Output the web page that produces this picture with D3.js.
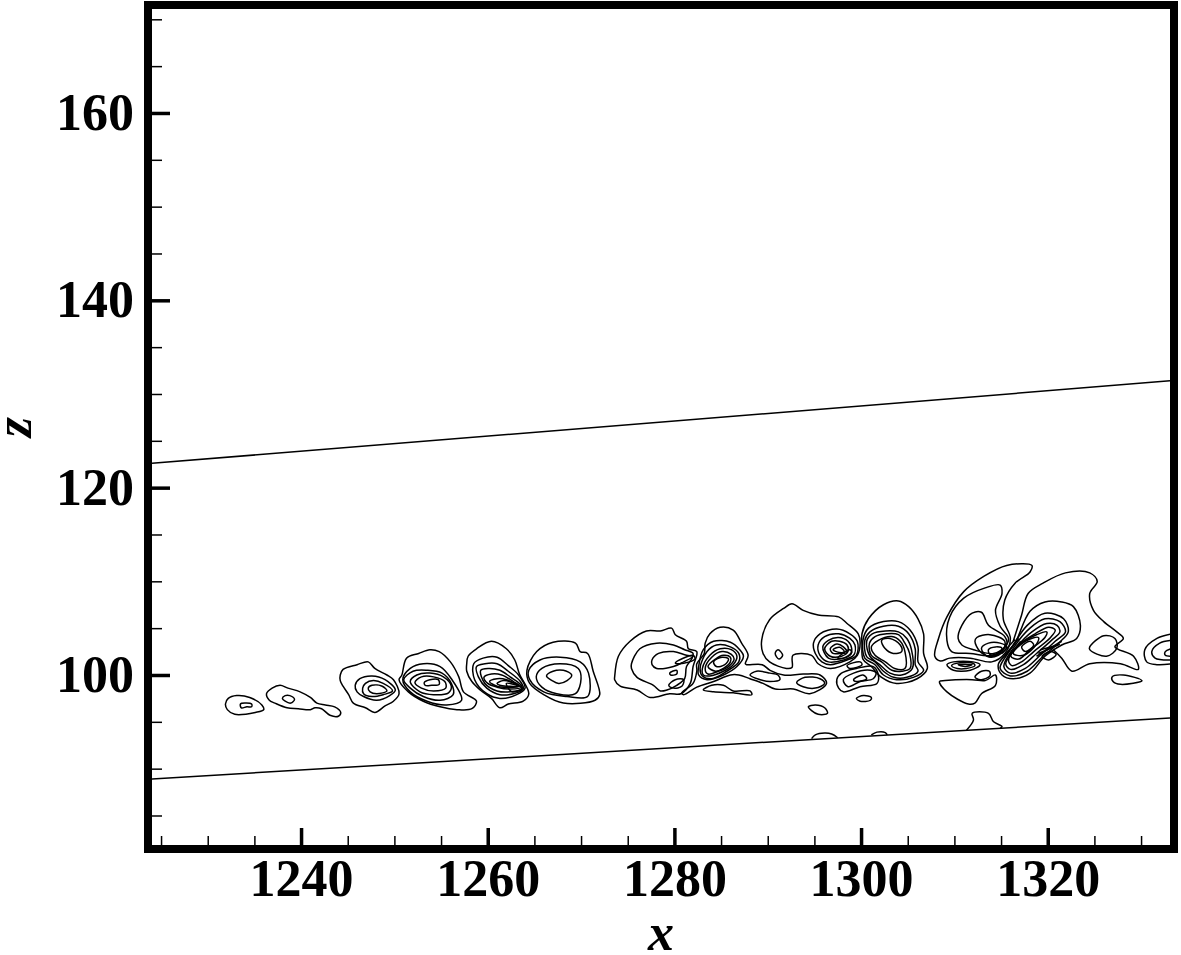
<!DOCTYPE html>
<html>

<head>
    <meta charset="utf-8"/>
    <title>contours x-z</title>
    <script src="https://d3js.org/d3.v7.min.js"></script>
    <style>
        html, body { margin: 0; padding: 0; background: #fff; }
        svg { display: block; }
        .tick text { font-family: "Liberation Serif", serif; font-weight: bold; font-size: 52px; fill: #000; }
        .title { font-family: "Liberation Serif", serif; font-weight: bold; font-style: italic; font-size: 52px; fill: #000; }
        .contour { fill: none; stroke: #000; stroke-width: 1.5; stroke-linejoin: round; }
    </style>
</head>

<body>
    <div id="chart"></div>

    <script>
        // axis ranges and ticks
        var xDomain = [1224.03, 1333.1];
        var zDomain = [81.85, 171.1];
        var xMajor = [1240, 1260, 1280, 1300, 1320];
        var xMinor = [1225, 1230, 1235, 1245, 1250, 1255, 1265, 1270, 1275, 1285, 1290, 1295, 1305, 1310, 1315, 1325, 1330];
        var zMajor = [100, 120, 140, 160];
        var zMinor = [85, 90, 95, 105, 110, 115, 125, 130, 135, 145, 150, 155, 165, 170];

        // the two nearly straight boundary lines
        var upperLine = [[1224.03, 122.6], [1333.1, 131.4]];
        var lowerLine = [[1224.03, 88.9], [1333.1, 95.4]];

        // contours, left to right
        var smallBlobs = [
            [[1231.9,96.9],[1232.2,97.5],[1233.1,97.8],[1234.5,97.6],[1235.8,96.8],[1236.0,96.3],[1235.1,96.0],[1232.9,95.8],[1232.1,96.3]],
            [[1233.5,96.9],[1234.0,97.0],[1234.7,96.9],[1234.7,96.6],[1234.2,96.6],[1233.6,96.5]],
            [[1236.3,98.0],[1236.9,98.6],[1237.75,98.9],[1238.6,98.6],[1239.9,98.2],[1241.0,97.6],[1241.7,97.0],[1242.6,96.8],[1243.6,96.6],[1244.25,96.0],[1244.0,95.6],[1243.1,95.7],[1242.2,96.4],[1241.5,96.5],[1241.0,96.3],[1239.7,96.4],[1238.5,96.5],[1237.2,97.0],[1236.6,97.3]],
            [[1238.0,97.5],[1238.3,97.8],[1238.8,97.8],[1239.3,97.4],[1238.9,97.0],[1238.3,97.2]]
        ];

        var vortex1248 = [
            [[1244.2,100.0],[1244.5,100.6],[1246.0,101.1],[1247.2,101.4],[1247.9,100.7],[1249.2,100.0],[1249.9,99.5],[1250.5,98.0],[1249.9,97.2],[1249.0,96.7],[1247.9,96.0],[1246.9,96.5],[1245.6,97.0],[1245.1,97.9],[1244.5,98.8],[1244.2,99.4]],
            [[1245.8,98.9],[1246.3,99.6],[1247.6,99.9],[1249.0,99.5],[1250.1,98.4],[1249.5,97.8],[1248.1,97.3],[1246.7,97.7],[1246.0,98.2]],
            [[1246.6,98.6],[1246.9,99.1],[1247.75,99.4],[1248.8,99.1],[1249.8,98.3],[1248.8,97.9],[1247.6,97.7],[1246.7,98.0]],
            [[1247.2,98.6],[1247.6,98.9],[1248.7,98.8],[1249.2,98.3],[1248.1,98.0],[1247.4,98.2]]
        ];

        var vortex1254 = [
            [[1250.8,100.0],[1251.3,101.8],[1252.6,102.3],[1253.8,102.7],[1254.8,102.5],[1256.0,101.4],[1256.9,99.8],[1257.4,98.2],[1258.8,97.2],[1258.3,96.4],[1256.7,96.3],[1254.9,96.6],[1253.1,97.2],[1251.5,98.2],[1250.5,99.5]],
            [[1250.9,99.5],[1251.7,100.7],[1253.1,101.2],[1254.9,100.9],[1256.1,99.6],[1257.2,97.3],[1255.6,96.8],[1253.5,97.2],[1251.7,98.2]],
            [[1251.0,99.5],[1252.0,100.4],[1253.5,100.5],[1255.1,100.2],[1256.1,99.1],[1256.3,97.9],[1254.9,97.3],[1253.1,97.7],[1251.7,98.6]],
            [[1251.7,99.3],[1252.4,100.0],[1253.8,100.2],[1255.25,99.8],[1256.1,98.8],[1255.8,98.1],[1254.2,97.9],[1252.75,98.2]],
            [[1252.2,99.2],[1252.9,99.8],[1254.2,99.8],[1255.4,99.3],[1255.5,98.6],[1254.2,98.3],[1252.9,98.6]],
            [[1253.2,99.2],[1253.8,99.5],[1254.7,99.5],[1254.8,99.0],[1254.0,98.9],[1253.3,98.9]]
        ];

        var vortex1261 = [
            [[1257.75,101.2],[1257.9,102.0],[1258.8,102.8],[1260.4,103.6],[1262.0,102.8],[1262.9,101.6],[1263.4,100.1],[1264.4,98.0],[1263.8,97.2],[1262.2,96.9],[1261.3,96.5],[1260.4,97.5],[1259.2,98.4],[1258.3,99.3],[1257.75,100.4]],
            [[1258.5,101.2],[1259.5,101.8],[1261.0,101.9],[1262.2,101.0],[1263.3,100.0],[1264.0,98.6],[1263.1,97.9],[1261.3,97.5],[1259.9,98.0],[1258.6,99.5]],
            [[1258.8,100.9],[1259.7,101.2],[1261.0,101.2],[1262.2,100.4],[1263.5,99.3],[1263.8,98.5],[1262.75,98.0],[1261.3,97.9],[1259.9,98.6],[1259.0,99.8]],
            [[1259.25,100.5],[1260.1,100.7],[1261.3,100.5],[1262.4,99.8],[1263.6,98.9],[1263.6,98.5],[1262.4,98.2],[1261.0,98.3],[1259.7,99.1]],
            [[1259.6,99.75],[1260.4,100.1],[1261.5,100.0],[1262.75,99.3],[1263.6,98.7],[1262.4,98.5],[1261.0,98.7],[1260.0,99.1]],
            [[1260.2,99.3],[1261.0,99.6],[1262.0,99.5],[1263.3,98.8],[1262.2,98.7],[1261.0,98.8]],
            [[1261.0,99.1],[1261.7,99.4],[1262.6,99.2],[1263.3,98.8],[1262.2,98.8],[1261.3,98.9]],
            [[1262.0,99.1],[1263.1,98.9],[1263.8,98.6],[1262.6,98.2]]
        ];

        var vortex1268 = [
            [[1264.2,100.5],[1265.25,102.5],[1267.0,103.5],[1269.4,103.4],[1269.9,102.5],[1270.7,102.3],[1271.3,100.4],[1272.0,97.9],[1271.5,97.3],[1268.1,97.0],[1266.0,97.9],[1264.5,99.1]],
            [[1264.4,100.5],[1265.6,101.6],[1267.75,101.9],[1269.9,101.4],[1270.8,100.2],[1270.7,97.7],[1268.5,97.7],[1266.0,98.2],[1264.5,99.5]],
            [[1265.2,99.8],[1265.8,100.7],[1267.75,101.2],[1269.7,100.7],[1270.0,99.6],[1269.4,98.0],[1267.4,98.0],[1265.8,98.7]],
            [[1266.3,99.9],[1267.0,100.4],[1268.1,100.5],[1269.0,100.0],[1268.5,99.4],[1267.6,99.1],[1266.9,99.4]]
        ];

        var lobe1280 = [
            [[1273.6,99.8],[1274.0,102.0],[1275.25,103.6],[1277.0,104.7],[1278.5,104.7],[1279.7,105.0],[1280.1,104.3],[1281.3,103.6],[1281.5,102.8],[1282.4,102.5],[1282.0,100.9],[1281.7,99.1],[1280.7,98.0],[1279.5,98.0],[1277.4,97.6],[1276.0,98.4],[1274.2,98.8],[1273.6,99.5]],
            [[1275.4,101.2],[1276.3,102.8],[1278.1,103.4],[1279.9,103.2],[1281.1,102.7],[1282.0,102.3],[1281.9,101.8],[1281.3,100.9],[1281.1,99.6],[1280.25,98.9],[1279.2,98.4],[1278.5,98.3],[1277.75,98.9],[1276.0,99.75],[1275.4,100.7]],
            [[1277.6,101.6],[1278.3,102.3],[1279.9,102.5],[1281.3,102.1],[1282.0,102.0],[1281.0,101.4],[1279.9,100.9],[1278.1,100.7],[1277.6,101.1]],
            [[1279.5,100.2],[1280.25,100.5],[1280.25,100.1],[1279.6,100.0]],
            [[1279.4,98.9],[1280.1,99.5],[1281.0,99.5],[1280.8,98.8],[1279.9,98.6]],
            [[1280.1,101.3],[1282.0,102.1],[1282.2,101.7],[1280.6,101.2]]
        ];

        var vortex1285 = [
            [[1283.3,103.4],[1283.8,104.4],[1284.9,105.1],[1286.3,104.8],[1287.2,103.4],[1287.9,102.1],[1287.6,101.2],[1287.75,101.1],[1289.4,101.1],[1290.25,100.5],[1291.7,100.0],[1293.8,100.1],[1295.6,100.0],[1296.3,99.1],[1294.5,98.0],[1292.75,98.5],[1290.8,98.5],[1289.5,99.1],[1288.1,99.6],[1286.9,100.0],[1286.0,100.0],[1284.2,99.3],[1282.4,98.7],[1281.0,97.9],[1280.8,98.1],[1282.0,99.1],[1282.4,100.4],[1282.4,101.2],[1283.2,102.3]],
            [[1282.6,100.9],[1283.1,102.7],[1284.2,103.6],[1286.0,103.5],[1287.0,102.7],[1287.4,102.0],[1286.7,100.9],[1285.25,100.0],[1283.5,99.5],[1282.6,100.0]],
            [[1282.75,100.7],[1283.5,102.5],[1284.5,103.2],[1286.0,103.0],[1286.9,102.3],[1286.9,101.4],[1285.6,100.4],[1284.0,99.6],[1283.0,99.9]],
            [[1283.0,100.7],[1283.8,102.1],[1284.9,102.8],[1286.1,102.7],[1286.7,102.0],[1286.3,101.1],[1285.25,100.4],[1283.8,99.9],[1283.1,100.0]],
            [[1283.3,100.7],[1284.0,101.9],[1285.1,102.5],[1286.1,102.2],[1286.4,101.7],[1285.8,100.9],[1284.7,100.4],[1283.6,100.1]],
            [[1283.6,100.9],[1284.4,101.7],[1285.25,102.1],[1286.0,101.9],[1286.0,101.4],[1285.25,100.7],[1284.4,100.4]],
            [[1284.2,101.4],[1285.1,101.9],[1285.8,101.7],[1285.4,101.1],[1284.5,100.9]]
        ];

        var patches1290 = [
            [[1288.1,100.0],[1288.8,100.4],[1290.25,100.2],[1291.1,100.0],[1291.3,99.5],[1290.25,99.3],[1289.2,99.5]],
            [[1293.1,99.2],[1294.0,99.75],[1295.6,99.6],[1296.1,99.1],[1295.1,98.6],[1293.8,98.75]],
            [[1283.1,98.4],[1284.0,98.9],[1285.25,98.9],[1286.3,98.3],[1288.1,98.3],[1288.3,97.9],[1286.3,98.1],[1284.2,98.2]],
            [[1290.8,102.3],[1291.1,102.7],[1291.6,102.1],[1291.2,101.7]],
            [[1294.35,96.6],[1295.1,96.8],[1296.1,96.5],[1296.4,95.9],[1295.4,95.8],[1294.7,96.2]],
            [[1299.5,97.5],[1300.25,97.8],[1301.1,97.6],[1301.0,97.3],[1299.9,97.2]]
        ];

        var vortex1298 = [
            [[1289.35,103.7],[1290.2,105.9],[1291.7,107.1],[1292.6,107.6],[1293.8,106.9],[1295.4,106.4],[1297.6,106.2],[1298.5,105.5],[1299.7,104.4],[1299.9,103.4],[1299.6,102.1],[1298.8,101.4],[1296.7,100.7],[1295.4,101.2],[1294.7,102.1],[1292.7,102.1],[1292.6,100.8],[1292.0,100.7],[1290.2,101.4],[1289.5,102.3]],
            [[1294.9,103.4],[1295.6,104.4],[1297.4,104.9],[1298.8,104.4],[1299.6,103.6],[1299.5,102.1],[1298.5,101.6],[1296.7,101.1],[1295.8,101.4],[1295.1,102.3]],
            [[1295.4,103.2],[1296.1,104.1],[1297.6,104.4],[1298.8,103.9],[1299.35,103.2],[1299.2,102.1],[1298.1,101.6],[1296.5,101.4],[1295.6,102.1]],
            [[1295.9,103.0],[1296.5,103.7],[1297.6,104.0],[1298.6,103.6],[1299.0,102.8],[1298.8,102.1],[1297.7,101.7],[1296.5,101.8]],
            [[1296.1,102.8],[1296.85,103.6],[1297.7,103.6],[1298.5,103.2],[1298.6,102.5],[1297.9,102.0],[1296.7,102.0]],
            [[1296.7,102.8],[1297.4,103.3],[1298.1,103.0],[1298.5,102.4],[1297.7,102.3],[1297.0,102.3]],
            [[1297.0,102.7],[1297.7,102.95],[1298.2,102.5],[1297.7,102.4]],
            [[1297.5,101.8],[1298.8,102.7],[1299.0,102.4],[1298.1,101.8]],
            [[1298.5,101.0],[1299.9,101.4],[1300.1,101.1],[1298.8,100.7]],
            [[1297.4,99.5],[1297.9,100.2],[1299.5,100.7],[1301.3,100.9],[1301.85,100.0],[1301.7,99.1],[1299.9,98.75],[1298.1,98.2],[1297.6,98.6]],
            [[1298.1,99.5],[1299.2,100.2],[1301.0,100.5],[1301.6,100.2],[1301.3,99.6],[1299.9,99.3],[1298.6,98.75]],
            [[1299.2,99.5],[1300.2,100.0],[1300.6,99.6],[1299.5,99.3]]
        ];

        var vortex1303 = [
            [[1300.1,104.4],[1300.8,106.0],[1302.4,107.5],[1304.0,107.9],[1305.1,107.3],[1306.1,106.0],[1306.7,104.4],[1306.7,102.3],[1307.1,100.7],[1306.0,99.6],[1303.8,99.1],[1302.2,99.75],[1301.1,100.9],[1300.2,101.7],[1300.1,103.2]],
            [[1300.2,103.7],[1300.8,105.0],[1302.4,105.7],[1304.0,105.7],[1305.25,104.8],[1306.1,103.0],[1306.1,101.4],[1306.7,100.5],[1305.6,99.75],[1303.8,99.5],[1302.4,100.0],[1301.5,101.1],[1300.4,101.8]],
            [[1300.4,103.7],[1300.95,104.6],[1302.4,105.2],[1304.0,105.2],[1305.1,104.4],[1305.8,102.8],[1305.8,101.1],[1306.1,100.4],[1304.9,99.75],[1303.5,99.75],[1302.4,100.4],[1301.5,101.4],[1300.6,101.96]],
            [[1300.6,103.6],[1301.2,104.4],[1302.6,104.7],[1304.0,104.6],[1304.9,103.9],[1305.4,102.7],[1305.5,100.7],[1304.35,100.0],[1303.1,100.2],[1302.0,101.1],[1300.95,102.0]],
            [[1300.9,103.4],[1301.5,104.1],[1302.75,104.4],[1304.0,104.3],[1304.7,103.4],[1305.2,102.3],[1305.25,100.7],[1304.35,100.4],[1303.3,100.5],[1302.2,101.4],[1301.1,102.1]],
            [[1301.1,103.0],[1301.85,103.7],[1303.3,104.1],[1304.2,103.6],[1304.7,102.5],[1304.7,100.7],[1303.6,100.7],[1302.6,101.4],[1301.5,102.1]],
            [[1302.2,103.7],[1303.1,103.9],[1304.2,103.2],[1304.35,102.5],[1303.45,102.3],[1302.55,102.85]]
        ];

        var vortex1317 = [
            [[1307.9,102.0],[1308.3,103.9],[1309.2,106.2],[1311.0,108.9],[1313.1,110.5],[1315.6,111.7],[1318.3,111.7],[1318.1,111.0],[1316.5,109.8],[1315.4,108.0],[1315.25,105.9],[1316.0,103.9],[1315.4,102.3],[1314.0,101.4],[1311.7,101.8],[1309.5,101.8],[1308.5,101.5]],
            [[1309.2,103.7],[1309.5,106.2],[1311.0,108.2],[1313.3,109.3],[1314.9,109.6],[1315.1,108.7],[1314.4,106.9],[1314.9,105.2],[1315.8,103.9],[1315.4,103.0],[1314.0,102.1],[1311.7,102.3],[1309.7,102.5]],
            [[1310.4,103.9],[1310.8,105.3],[1311.9,106.6],[1312.9,106.7],[1313.65,105.3],[1315.4,104.1],[1315.6,103.2],[1314.2,102.3],[1312.05,102.7],[1310.8,103.2]],
            [[1312.2,103.6],[1312.4,104.0],[1313.8,104.3],[1315.4,103.6],[1315.1,102.5],[1313.8,101.96],[1312.75,102.5]],
            [[1312.9,102.85],[1313.65,103.4],[1314.9,103.4],[1315.6,103.0],[1314.7,102.1],[1313.5,102.0]],
            [[1313.65,102.7],[1314.4,103.0],[1315.1,102.85],[1314.4,102.1],[1313.8,102.2]],
            [[1316.5,103.4],[1318.1,106.8],[1319.7,107.8],[1321.5,107.8],[1322.75,107.3],[1323.5,105.3],[1323.1,103.9],[1321.5,103.2],[1319.7,102.0],[1318.1,100.2],[1316.3,99.6],[1315.1,100.0],[1314.7,101.1],[1315.8,102.5]],
            [[1314.9,100.7],[1316.0,102.7],[1317.8,105.3],[1319.7,106.6],[1321.7,106.0],[1322.2,104.6],[1321.15,103.4],[1319.5,102.0],[1317.8,100.4],[1316.0,99.9]],
            [[1315.3,100.9],[1316.3,102.85],[1318.1,105.0],[1319.7,106.0],[1321.3,105.7],[1321.9,104.6],[1320.8,103.6],[1319.2,102.1],[1317.6,100.7],[1316.0,100.2]],
            [[1315.5,101.2],[1316.7,103.0],[1318.3,104.6],[1319.9,105.5],[1321.0,105.3],[1321.3,104.6],[1320.4,103.7],[1318.8,102.3],[1317.4,101.1],[1316.0,100.6]],
            [[1315.8,101.6],[1316.9,103.2],[1318.65,104.4],[1320.1,105.1],[1320.8,104.8],[1320.3,104.0],[1318.5,102.5],[1317.2,101.4],[1316.15,101.0]],
            [[1316.05,102.0],[1317.2,103.4],[1318.8,104.3],[1319.9,104.6],[1319.7,104.0],[1318.1,102.7],[1316.9,101.7]],
            [[1316.3,102.3],[1317.6,103.6],[1319.0,104.0],[1318.8,103.3],[1317.4,102.1]],
            [[1317.2,103.0],[1318.1,103.6],[1318.5,103.2],[1317.6,102.5]]
        ];

        var patches1320 = [
            [[1324.5,103.0],[1326.0,104.2],[1327.2,103.9],[1327.4,102.85],[1326.3,102.0],[1324.5,102.7]],
            [[1319.4,102.0],[1320.3,102.5],[1320.9,102.2],[1320.1,101.6]],
            [[1309.2,101.1],[1309.9,101.4],[1312.0,101.4],[1312.75,101.1],[1311.7,100.5],[1309.9,100.5]],
            [[1309.7,101.0],[1310.6,101.3],[1312.0,101.25],[1312.2,101.0],[1311.3,100.7],[1310.3,100.7]],
            [[1310.4,101.1],[1311.9,101.1],[1311.15,100.9]],
            [[1312.2,99.8],[1312.9,100.4],[1313.75,100.4],[1313.8,99.9],[1312.9,99.5],[1312.4,99.6]],
            [[1308.4,99.3],[1309.0,99.4],[1311.9,99.5],[1313.3,99.4],[1314.4,100.0],[1314.4,98.9],[1312.9,98.0],[1312.2,97.0],[1311.5,96.9],[1309.2,98.2]],
            [[1326.9,99.8],[1328.1,100.0],[1330.1,99.4],[1327.8,99.0],[1327.0,99.3]]
        ];

        // these do not close inside the frame or run onto the boundary line
        var openContours = [
            [[1294.7,93.2],[1295.1,93.6],[1296.1,93.8],[1296.85,93.7],[1297.5,93.3]],
            [[1301.1,93.6],[1301.7,93.9],[1302.6,93.85],[1302.8,93.6]],
            [[1311.3,94.1],[1312.05,95.2],[1311.9,95.9],[1313.65,95.9],[1314.2,95.0],[1315.1,94.5],[1314.9,94.3]],
            [[1316.3,103.6],[1317.2,106.4],[1317.9,108.7],[1319.5,109.8],[1321.9,110.9],[1324.5,110.9],[1325.3,110.0],[1324.5,108.7],[1324.9,106.9],[1326.0,105.7],[1327.4,104.6],[1328.1,103.9],[1327.2,103.0],[1329.2,102.0],[1329.7,100.6],[1327.8,101.2],[1324.5,101.2],[1322.6,100.4],[1321.5,101.8],[1320.6,102.7]],
            [[1333.4,104.4],[1331.7,103.9],[1330.4,102.7],[1330.6,101.4],[1331.7,101.1],[1333.4,101.2]],
            [[1333.4,103.7],[1332.0,103.4],[1331.15,102.5],[1331.5,101.8],[1333.4,101.6]],
            [[1333.4,102.85],[1332.6,102.5],[1332.6,102.1],[1333.4,102.0]],
            [[1315.4,102.1],[1316.9,103.9]],
            [[1315.8,102.0],[1317.1,103.6]],
            [[1315.1,102.3],[1316.5,103.8]],
            [[1319.0,102.3],[1321.3,103.3]],
            [[1319.2,102.7],[1321.15,103.2]],
            [[1318.8,102.0],[1321.5,103.6]]
        ];

        var closedContours = [].concat(smallBlobs, vortex1248, vortex1254, vortex1261, vortex1268, lobe1280,
            vortex1285, patches1290, vortex1298, vortex1303, vortex1317, patches1320);

        var width = 1181, height = 955;
        var left = 152, right = 1170, top_ = 9, bottom = 845;

        var svg = d3.select("#chart").append("svg")
            .attr("width", width)
            .attr("height", height);

        var x = d3.scaleLinear().domain(xDomain).range([left, right]);
        var z = d3.scaleLinear().domain(zDomain).range([bottom, top_]);

        svg.append("clipPath").attr("id", "plot").append("rect")
            .attr("x", left).attr("y", top_)
            .attr("width", right - left).attr("height", bottom - top_);

        var plot = svg.append("g").attr("clip-path", "url(#plot)");

        var closedPath = d3.line().x(function(d) { return x(d[0]); }).y(function(d) { return z(d[1]); })
            .curve(d3.curveCatmullRomClosed.alpha(0.5));
        var openPath = d3.line().x(function(d) { return x(d[0]); }).y(function(d) { return z(d[1]); })
            .curve(d3.curveCatmullRom.alpha(0.5));

        plot.selectAll(".closed").data(closedContours).enter().append("path")
            .attr("class", "contour closed")
            .attr("d", closedPath);

        plot.selectAll(".open").data(openContours.concat([upperLine, lowerLine])).enter().append("path")
            .attr("class", "contour open")
            .attr("d", openPath);

        // major and minor ticks point into the plot
        function drawTicks(axis, translate, strokeWidth) {
            var g = svg.append("g").attr("transform", translate).call(axis);
            g.select(".domain").remove();
            g.selectAll("line").attr("stroke", "#000").attr("stroke-width", strokeWidth);
            return g;
        }

        drawTicks(d3.axisBottom(x).tickValues(xMinor).tickSize(-9).tickFormat(""), "translate(0," + bottom + ")", 1.5);
        drawTicks(d3.axisLeft(z).tickValues(zMinor).tickSize(-10).tickFormat(""), "translate(" + left + ",0)", 1.5);

        drawTicks(d3.axisBottom(x).tickValues(xMajor).tickSize(-17).tickPadding(14).tickFormat(d3.format("d")),
            "translate(0," + bottom + ")", 3.5);
        drawTicks(d3.axisLeft(z).tickValues(zMajor).tickSize(-18).tickPadding(18).tickFormat(d3.format("d")),
            "translate(" + left + ",0)", 3.5);

        // heavy frame
        svg.append("rect")
            .attr("x", left - 4).attr("y", top_ - 4)
            .attr("width", right - left + 8).attr("height", bottom - top_ + 8)
            .attr("fill", "none").attr("stroke", "#000").attr("stroke-width", 8);

        svg.append("text").attr("class", "title")
            .attr("x", 661).attr("y", 950)
            .attr("text-anchor", "middle")
            .text("x");

        svg.append("text").attr("class", "title")
            .attr("transform", "translate(31,427) rotate(-90)")
            .attr("text-anchor", "middle")
            .text("z");
    </script>
</body>

</html>
